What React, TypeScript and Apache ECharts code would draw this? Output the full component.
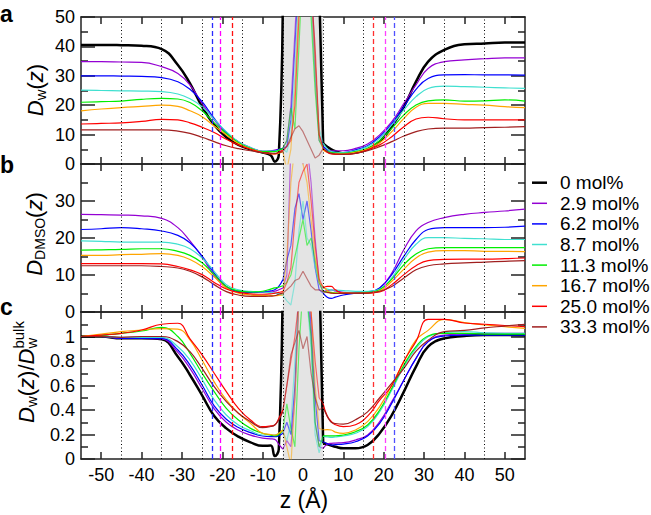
import { useEffect, useRef } from "react";
import * as echarts from "echarts";

const FONT = "Liberation Sans";

// z positions (Å) where the curves were read
const Z = [-55, -50, -45, -40, -35, -31, -28, -25, -22, -19, -16, -13, -10, -8, -7, -6, -5, -4, -3, -2, -1, 0, 1, 2, 3, 4, 5, 6, 7, 8, 10, 13, 16, 19, 22, 25, 28, 31, 35, 40, 45, 50, 55];

const CONC = ["0 mol%", "2.9 mol%", "6.2 mol%", "8.7 mol%", "11.3 mol%", "16.7 mol%", "25.0 mol%", "33.3 mol%"];
const COLORS = ["#000000", "#9400d3", "#0000ff", "#40e0d0", "#00ee00", "#ffa500", "#ff0000", "#a01f1f"];

const X_TICKS = [-50, -40, -30, -20, -10, 0, 10, 20, 30, 40, 50];
const DOTTED_Z = [-45, -35, -25, -15, -5, 5, 15, 25, 35, 45];
const DASHED_Z = [-22.5, -20.5, -17.5, 17.5, 20.5, 22.5];
const DASHED_COLORS = ["#2a2aff", "#ff00ff", "#ff1010", "#ff3030", "#ff40ff", "#5050ff"];
const BAND = [-5, 5];

// Panel a: D_w(z)
const A_0 = [40.5, 40.5, 40.4, 40.2, 39.1, 33.7, 27.4, 19.5, 13.3, 9.1, 6.5, 5.0, 3.9, 3.0, 0.8, 3.0, 55, 90, 90, 90, 90, 90, 90, 90, 90, 60, 7.0, 5.9, 5.0, 4.4, 3.6, 3.9, 5.0, 7.6, 12.7, 19.5, 28.0, 34.8, 38.8, 40.7, 41.0, 41.3, 41.3];
const A_29 = [34.8, 34.8, 34.7, 34.6, 33.1, 30.8, 26.9, 20.6, 15.0, 10.4, 7.6, 5.6, 4.4, 4.5, 4.7, 5.0, 5.3, 8, 20, 45, 70, 80, 75, 60, 30, 8, 5.9, 5.0, 4.5, 4.5, 4.5, 5.3, 6.8, 9.9, 14.4, 20.6, 26.9, 32.5, 34.8, 35.4, 35.8, 36.1, 36.1];
const A_62 = [30.0, 30.0, 29.9, 29.8, 29.4, 28.0, 25.4, 21.2, 15.5, 10.7, 7.2, 5.3, 4.2, 4.3, 4.5, 4.9, 5.3, 6, 15, 40, 65, 85, 80, 65, 35, 10, 5.9, 4.8, 4.2, 4.0, 3.9, 4.8, 6.2, 9.3, 13.8, 19.5, 25.4, 29.1, 30.3, 30.4, 30.3, 30.3, 30.2];
const A_87 = [25.1, 25.0, 24.9, 24.8, 24.6, 23.8, 22.2, 19.5, 15.2, 11.0, 7.6, 5.6, 4.4, 4.4, 4.4, 4.7, 5.1, 4, 10, 30, 60, 75, 70, 55, 30, 12, 7.0, 5.2, 4.2, 4.0, 3.9, 4.5, 5.9, 8.7, 13.3, 18.4, 22.9, 25.7, 26.5, 26.3, 26.1, 25.9, 25.7];
const A_113 = [21.0, 21.2, 21.4, 22.0, 22.3, 22.1, 20.9, 18.1, 14.0, 10.4, 7.2, 5.3, 4.2, 4.2, 4.2, 4.7, 5.3, 8, 19, 12, 40, 70, 65, 50, 25, 8, 5.3, 4.3, 3.9, 3.7, 3.6, 4.2, 5.3, 7.9, 12.1, 16.7, 20.1, 21.5, 21.8, 21.4, 21.5, 21.8, 21.4];
const A_167 = [18.1, 18.7, 19.2, 19.6, 20.0, 19.6, 18.1, 16.1, 12.9, 9.9, 7.0, 5.1, 3.9, 3.5, 3.4, 3.7, 4.2, -2, 5, 25, 55, 70, 75, 60, 35, 10, 4.8, 4.0, 3.6, 3.5, 3.4, 4.0, 5.1, 7.2, 11.0, 15.5, 19.3, 20.6, 20.6, 20.3, 20.0, 19.5, 19.2];
const A_250 = [13.6, 13.8, 14.0, 14.5, 15.2, 15.0, 14.0, 12.5, 10.7, 8.4, 6.5, 5.0, 3.9, 3.5, 3.4, 4.0, 4.8, 6, 8, 20, 50, 65, 70, 60, 40, 10, 5.3, 4.0, 3.4, 3.3, 3.3, 3.6, 4.8, 6.5, 9.3, 12.7, 15.3, 15.9, 15.4, 15.0, 15.0, 15.0, 15.0];
const A_333 = [11.6, 11.6, 11.6, 11.6, 11.6, 11.2, 10.4, 9.1, 7.6, 6.2, 5.2, 4.5, 3.9, 3.7, 3.6, 3.9, 4.2, 6, 9, 12, 13, 11, 8, 5, 2, 3, 5.3, 4.2, 3.6, 3.4, 3.3, 3.6, 4.5, 5.9, 7.6, 9.5, 11.0, 11.9, 12.2, 12.2, 12.4, 12.5, 12.7];

// Panel b: D_DMSO(z)
const B_29 = [26.4, 26.3, 26.2, 26.0, 25.3, 22.8, 19.2, 14.9, 9.8, 6.6, 5.5, 5.3, 5.3, 5.4, 5.6, 6.0, 6.5, 10, 45, 50, 45, 40, 45, 35, 20, 8, 5.5, 5.8, 6.0, 5.7, 5.3, 5.1, 5.3, 6.5, 10.5, 16.9, 21.9, 24.2, 25.5, 26.4, 26.9, 27.3, 27.8];
const B_62 = [22.3, 22.5, 22.8, 22.5, 21.9, 20.7, 18.7, 15.1, 10.5, 6.9, 5.5, 5.3, 5.4, 5.7, 6.0, 6.9, 8.7, 14, 18, 28, 32, 25, 30, 22, 12, 6, 5.1, 4.0, 3.7, 4.0, 4.6, 5.1, 5.4, 6.5, 10.1, 15.1, 19.6, 22.3, 22.8, 22.8, 22.8, 22.9, 23.2];
const B_87 = [19.2, 19.1, 18.9, 18.9, 18.9, 18.3, 17.1, 14.6, 11.0, 7.4, 6.0, 5.6, 5.4, 5.2, 5.1, 4.9, 4.6, 3, 1.9, 8, 22, 30, 20, 18, 12, 8, 6.5, 6.2, 6.0, 5.9, 5.8, 5.6, 5.6, 6.2, 9.2, 14.2, 18.3, 20.1, 20.1, 19.9, 19.8, 19.6, 19.6];
const B_113 = [16.7, 16.8, 16.9, 17.1, 17.1, 16.4, 15.3, 13.3, 10.1, 6.9, 5.7, 5.4, 5.6, 6.2, 6.5, 6.7, 7.1, 8, 10, 15, 20, 25, 18, 20, 14, 8, 5.5, 5.4, 5.3, 5.2, 5.1, 5.1, 5.3, 6.0, 8.9, 12.8, 15.7, 17.1, 17.4, 17.4, 17.4, 17.4, 17.4];
const B_167 = [15.3, 15.3, 15.5, 15.6, 15.8, 15.3, 14.2, 12.3, 9.5, 6.5, 5.1, 4.6, 4.4, 4.4, 4.4, 4.5, 4.6, 15, 35, 45, 45, 40, 35, 25, 15, 8, 6.9, 5.8, 5.1, 5.1, 5.1, 5.0, 5.1, 5.7, 8.3, 11.6, 14.6, 16.2, 16.6, 16.6, 16.4, 16.4, 16.3];
const B_250 = [13.1, 13.1, 13.1, 13.1, 13.0, 12.3, 11.4, 10.1, 8.0, 6.2, 5.3, 4.9, 4.8, 4.9, 5.1, 5.3, 5.5, 8, 12, 25, 35, 38, 40, 30, 18, 9, 6.5, 6.9, 6.9, 6.0, 5.1, 5.1, 5.1, 5.4, 7.4, 10.1, 12.5, 13.9, 14.2, 14.3, 14.3, 14.4, 14.6];
const B_333 = [12.5, 12.5, 12.5, 12.5, 12.3, 11.9, 11.0, 9.5, 7.4, 5.5, 4.6, 4.2, 4.2, 4.3, 4.4, 4.8, 5.1, 6, 7, 8.5, 9, 11, 9, 7, 6, 6, 5.5, 5.3, 5.1, 5.0, 5.0, 5.0, 5.1, 5.6, 6.9, 9.2, 11.4, 12.5, 13.0, 13.3, 13.5, 13.7, 13.9];

// Panel c: D_w(z) / D_w^bulk
const C_0 = [1.0, 1.0, 0.985, 0.985, 0.977, 0.835, 0.686, 0.52, 0.351, 0.25, 0.182, 0.136, 0.108, 0.11, 0.024, 0.08, 1.6, 2, 2, 2, 2, 2, 2, 2, 2, 1.6, 0.128, 0.12, 0.11, 0.1, 0.087, 0.087, 0.114, 0.21, 0.359, 0.55, 0.754, 0.917, 0.985, 1.004, 1.012, 1.012, 1.01];
const C_29 = [1.0, 1.0, 0.985, 0.985, 0.98, 0.87, 0.74, 0.575, 0.41, 0.3, 0.235, 0.195, 0.17, 0.165, 0.16, 0.12, 0.08, 0.15, 0.1, 0.5, 1.3, 1.5, 1.4, 1.0, 0.3, 0.1, 0.087, 0.12, 0.128, 0.13, 0.133, 0.155, 0.196, 0.305, 0.468, 0.645, 0.822, 0.958, 1.012, 1.02, 1.026, 1.026, 1.026];
const C_62 = [1.0, 1.0, 0.985, 0.985, 0.985, 0.89, 0.767, 0.604, 0.433, 0.324, 0.257, 0.215, 0.188, 0.182, 0.182, 0.19, 0.21, 0.3, 0.2, 0.6, 1.4, 1.6, 1.5, 1.1, 0.5, 0.15, 0.141, 0.125, 0.114, 0.118, 0.122, 0.141, 0.188, 0.291, 0.455, 0.645, 0.822, 0.958, 1.004, 1.012, 1.012, 1.012, 1.012];
const C_87 = [1.0, 1.0, 0.993, 0.993, 0.993, 0.917, 0.808, 0.65, 0.482, 0.359, 0.278, 0.231, 0.196, 0.196, 0.196, 0.21, 0.223, 0.15, 0.3, 0.8, 1.3, 1.5, 1.3, 0.9, 0.2, 0.05, 0.182, 0.18, 0.177, 0.18, 0.188, 0.21, 0.264, 0.386, 0.563, 0.754, 0.903, 0.998, 1.031, 1.04, 1.03, 1.026, 1.026];
const C_113 = [1.0, 1.01, 1.026, 1.045, 1.075, 1.0, 0.862, 0.7, 0.55, 0.414, 0.318, 0.25, 0.21, 0.195, 0.188, 0.2, 0.237, 0.45, 0.25, 0.1, 0.9, 1.4, 1.3, 1.0, 0.3, 0.1, 0.188, 0.19, 0.188, 0.19, 0.196, 0.223, 0.278, 0.4, 0.577, 0.767, 0.917, 1.004, 1.026, 1.026, 1.02, 1.02, 1.02];
const C_167 = [1.0, 1.02, 1.04, 1.053, 1.065, 1.06, 0.972, 0.808, 0.63, 0.482, 0.373, 0.291, 0.21, 0.2, 0.196, 0.21, 0.237, 0.1, -0.05, 0.5, 1.3, 1.6, 1.5, 1.2, 0.6, 0.25, 0.237, 0.24, 0.237, 0.22, 0.21, 0.237, 0.305, 0.427, 0.604, 0.795, 0.972, 1.05, 1.14, 1.113, 1.094, 1.08, 1.067];
const C_250 = [1.0, 1.012, 1.026, 1.053, 1.1, 1.108, 0.98, 0.85, 0.7, 0.55, 0.414, 0.318, 0.264, 0.27, 0.278, 0.33, 0.4, 0.6, 0.8, 1.0, 1.3, 1.5, 1.4, 1.2, 0.8, 0.5, 0.45, 0.35, 0.307, 0.28, 0.264, 0.28, 0.35, 0.48, 0.6, 0.8, 0.96, 1.14, 1.14, 1.11, 1.1, 1.09, 1.08];
const C_333 = [1.0, 1.0, 0.993, 1.0, 1.0, 0.958, 0.876, 0.74, 0.59, 0.468, 0.373, 0.305, 0.256, 0.265, 0.278, 0.32, 0.386, 0.6, 0.85, 0.95, 1.05, 0.9, 1.0, 0.7, 0.5, 0.4, 0.42, 0.35, 0.3, 0.29, 0.285, 0.32, 0.385, 0.5, 0.62, 0.74, 0.88, 0.97, 1.04, 1.05, 1.07, 1.085, 1.1];

const PANELS = [
  { series: [A_0, A_29, A_62, A_87, A_113, A_167, A_250, A_333], min: 0, max: 50, interval: 10, showMax: true },
  { series: [null, B_29, B_62, B_87, B_113, B_167, B_250, B_333], min: 0, max: 40, interval: 10, showMax: false },
  { series: [C_0, C_29, C_62, C_87, C_113, C_167, C_250, C_333], min: 0, max: 1.2, interval: 0.2, showMax: false },
];

type Piece = { t: string; s: number; it?: boolean; off?: number; same?: boolean };

function buildTitle(pieces: Piece[], gx: number, gy: number) {
  const ctx = document.createElement("canvas").getContext("2d")!;
  let cursor = 0;
  let prevX = 0;
  const items: any[] = [];
  for (const p of pieces) {
    ctx.font = `${p.it ? "italic " : ""}${p.s}px "${FONT}"`;
    const w = ctx.measureText(p.t).width;
    const x = p.same ? prevX : cursor;
    items.push({ p, x });
    cursor = p.same ? Math.max(cursor, x + w) : x + w;
    prevX = x;
  }
  const half = cursor / 2;
  return {
    type: "group",
    x: gx,
    y: gy,
    rotation: Math.PI / 2,
    children: items.map(({ p, x }) => ({
      type: "text",
      x: x - half,
      y: (p.off || 0) - 0.3465 * p.s,
      style: {
        text: p.t,
        fontSize: p.s,
        fontFamily: FONT,
        fontStyle: p.it ? "italic" : "normal",
        fill: "#000",
        align: "left",
        verticalAlign: "middle",
      },
    })),
  };
}

export default function App() {
  const ref = useRef<HTMLDivElement>(null);
  useEffect(() => {
    if (!ref.current) return;
    const chart = echarts.init(ref.current, null, { renderer: "svg" });
    const grids = [
      { left: 81, top: 17, width: 444, height: 147 },
      { left: 81, top: 164, width: 444, height: 148 },
      { left: 81, top: 312, width: 444, height: 147 },
    ];
    const lineSt = { color: "#222", width: 1.5 };
    const xAxis: any[] = [];
    const yAxis: any[] = [];
    const series: any[] = [];
    PANELS.forEach((P, i) => {
      ["bottom", "top"].forEach((pos) => {
        xAxis.push({
          gridIndex: i, type: "value", position: pos, min: -55, max: 55,
          axisLine: { show: true, onZero: false, lineStyle: lineSt },
          axisTick: { show: true, inside: true, length: 7, customValues: X_TICKS, lineStyle: lineSt },
          axisLabel: { show: i === 2 && pos === "bottom", customValues: X_TICKS, fontFamily: FONT, fontSize: 18, color: "#000", margin: 7 },
          splitLine: { show: false },
        });
      });
      ["left", "right"].forEach((pos) => {
        yAxis.push({
          gridIndex: i, type: "value", position: pos, min: P.min, max: P.max, interval: P.interval,
          axisLine: { show: true, onZero: false, lineStyle: lineSt },
          axisTick: { show: true, inside: true, length: 14, lineStyle: lineSt },
          minorTick: { show: true, splitNumber: 2, length: 7, lineStyle: lineSt },
          axisLabel: {
            show: pos === "left", showMaxLabel: P.showMax, fontFamily: FONT, fontSize: 18, color: "#000", margin: 6,
            formatter: (v: number) => String(+v.toFixed(1)),
          },
          splitLine: { show: false },
        });
      });
      const xi = i * 2, yi = i * 2;
      series.push({
        type: "line", xAxisIndex: xi, yAxisIndex: yi, data: [], z: 1, silent: true,
        markArea: { silent: true, itemStyle: { color: "#e4e4e4" }, data: [[{ xAxis: BAND[0] }, { xAxis: BAND[1] }]] },
      });
      P.series.forEach((arr, k) => {
        if (!arr) return;
        series.push({
          type: "line", xAxisIndex: xi, yAxisIndex: yi, z: 2, symbol: "none", smooth: false, silent: true,
          lineStyle: { color: COLORS[k], width: k === 0 ? 2.5 : 1.2, opacity: k === 0 ? 1 : 0.55 },
          data: Z.map((z, j) => [z, Math.abs(z) <= 5 ? arr[j] : null]),
        });
      });
      P.series.forEach((arr, k) => {
        if (!arr) return;
        series.push({
          type: "line", xAxisIndex: xi, yAxisIndex: yi, z: 3, symbol: "none", smooth: 0.45, silent: true,
          lineStyle: { color: COLORS[k], width: k === 0 ? 2.5 : 1.2 },
          data: Z.map((z, j) => [z, Math.abs(z) < 5 ? null : arr[j]]),
        });
      });
      series.push({
        type: "line", xAxisIndex: xi, yAxisIndex: yi, data: [], z: 4, silent: true,
        markLine: {
          silent: true, symbol: ["none", "none"], label: { show: false },
          data: [
            ...DOTTED_Z.map((z) => ({ xAxis: z, lineStyle: { color: "#000", width: 1, type: [1, 2.5] } })),
            ...DASHED_Z.map((z, m) => ({ xAxis: z, lineStyle: { color: DASHED_COLORS[m], width: 1.3, type: [5, 3] } })),
          ],
        },
      });
    });

    const graphic: any[] = [
      buildTitle([{ t: "D", s: 22, it: true }, { t: "w", s: 15, off: 3 }, { t: "(", s: 22 }, { t: "z", s: 22, it: true }, { t: ")", s: 22 }], 43, 90),
      buildTitle([{ t: "D", s: 22, it: true }, { t: "DMSO", s: 14, off: 3 }, { t: "(", s: 22 }, { t: "z", s: 22, it: true }, { t: ")", s: 22 }], 42, 234),
      buildTitle([
        { t: "D", s: 22, it: true }, { t: "w", s: 15, off: 3 }, { t: "(", s: 22 }, { t: "z", s: 22, it: true }, { t: ")/", s: 22 },
        { t: "D", s: 22, it: true }, { t: "w", s: 15, off: 3 }, { t: "bulk", s: 15, off: -10, same: true },
      ], 34, 372),
      { type: "text", x: 0, y: 13.5, style: { text: "a", fontSize: 23, fontWeight: "bold", fontFamily: FONT, fill: "#000", verticalAlign: "middle" } },
      { type: "text", x: 0, y: 165, style: { text: "b", fontSize: 23, fontWeight: "bold", fontFamily: FONT, fill: "#000", verticalAlign: "middle" } },
      { type: "text", x: 0, y: 307, style: { text: "c", fontSize: 23, fontWeight: "bold", fontFamily: FONT, fill: "#000", verticalAlign: "middle" } },
      { type: "text", x: 304, y: 500, style: { text: "z (Å)", fontSize: 23, fontFamily: FONT, fill: "#000", align: "center", verticalAlign: "middle" } },
    ];
    CONC.forEach((label, k) => {
      const y = 182.7 + k * 20.6;
      graphic.push({ type: "line", shape: { x1: 532, y1: y, x2: 547, y2: y }, style: { stroke: COLORS[k], lineWidth: k === 0 ? 2.5 : 1.5 } });
      graphic.push({ type: "text", x: 560, y, style: { text: label, fontSize: 19, fontFamily: FONT, fill: "#000", verticalAlign: "middle" } });
    });

    chart.setOption({
      animation: false,
      backgroundColor: "#fff",
      grid: grids,
      xAxis,
      yAxis,
      series,
      graphic,
    });
    return () => chart.dispose();
  }, []);
  return <div ref={ref} style={{ position: "absolute", left: 0, top: 0, width: 651, height: 515 }} />;
}
